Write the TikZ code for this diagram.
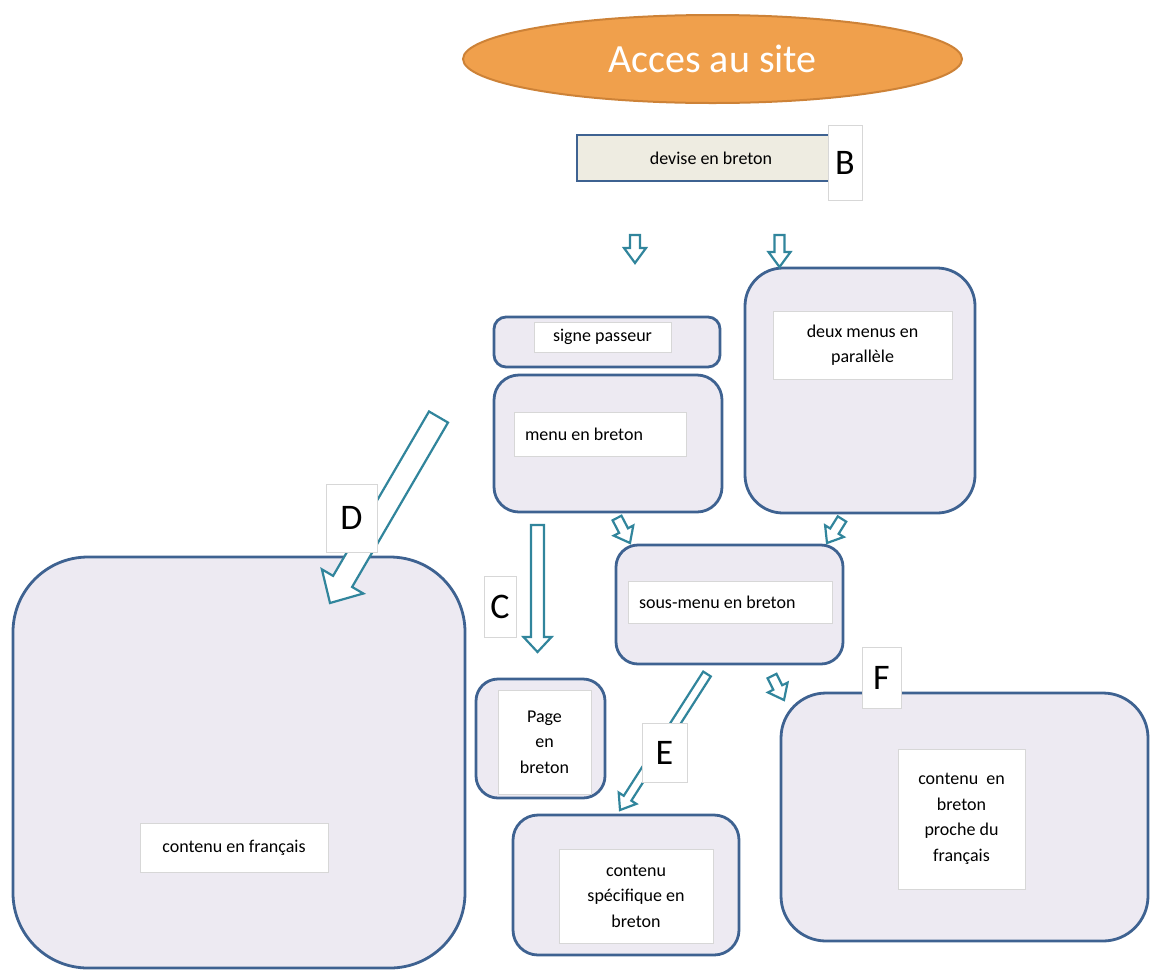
\documentclass[tikz,border=0pt]{standalone}
\usepackage{fontspec}
\setmainfont{Carlito}
\usetikzlibrary{shapes.geometric,calc}
\definecolor{boxline}{RGB}{62,98,145}
\definecolor{boxfill}{RGB}{237,234,242}
\definecolor{arrowteal}{RGB}{49,133,156}
\definecolor{orangefill}{RGB}{240,160,76}
\definecolor{orangeline}{RGB}{205,130,55}
\definecolor{devisefill}{RGB}{238,236,225}
\definecolor{innerline}{RGB}{215,215,215}
\newcommand\blockarrow[5]{%
  \coordinate (bah) at ($(#2)!#5!(#1)$);
  \draw[arrowline] ($(#1)!#3!90:(#2)$) -- ($(bah)!#3!90:(#2)$) -- ($(bah)!#4!90:(#2)$) -- (#2)
    -- ($(bah)!#4!-90:(#2)$) -- ($(bah)!#3!-90:(#2)$) -- ($(#1)!#3!-90:(#2)$) -- cycle;}
\tikzset{
  outerbox/.style={draw=boxline, fill=boxfill, line width=2.8pt, rounded corners=#1, inner sep=0pt},
  innerbox/.style={draw=innerline, fill=white, line width=0.8pt, inner sep=0pt, align=center,
    font=\fontsize{18}{25.5}\selectfont},
  letterbox/.style={draw=innerline, fill=white, line width=0.8pt, inner sep=0pt,
    font=\fontsize{36}{40}\selectfont},
  arrowline/.style={draw=arrowteal, fill=white, line width=2.2pt, line join=miter},
}
\begin{document}
\begin{tikzpicture}[x=1pt,y=-1pt]
\useasboundingbox (0,0) rectangle (1150,970);
% title
\node[ellipse, draw=orangeline, fill=orangefill, line width=2pt, minimum width=499pt, minimum height=88pt,
  text=white, font=\fontsize{40}{44}\selectfont] (title) at (712.5,59) {\raisebox{-3pt}{Acces au site}};
% devise
\node[draw=boxline, fill=devisefill, line width=2.8pt, minimum width=263pt, minimum height=46pt,
  inner sep=0pt, font=\fontsize{18}{22}\selectfont] (devise) at (708.5,158) {\hspace*{5pt}devise en breton};
\node[letterbox, minimum width=34pt, minimum height=75pt] (lB) at (845,162.5) {B};
% boxes
\node[outerbox=12pt, minimum width=226pt, minimum height=50pt] (signe) at (607,342) {};
\node[innerbox, minimum width=137pt, minimum height=30pt] (signein) at (602.5,337) {signe passeur};
\node[outerbox=25pt, minimum width=228pt, minimum height=137pt] (menu) at (608,443.5) {};
\node[innerbox, minimum width=172pt, minimum height=44pt] (menuin) at (600,434) {\makebox[150pt][l]{menu en breton}};
\node[outerbox=38pt, minimum width=230pt, minimum height=245pt] (deux) at (860,390.5) {};
\node[innerbox, minimum width=179pt, minimum height=68pt] (deuxin) at (862.5,345) {deux menus en\\parall\`ele};
\node[outerbox=22pt, minimum width=227pt, minimum height=119pt] (sous) at (729.5,604.5) {};
\node[innerbox, minimum width=204pt, minimum height=42pt] (sousin) at (730,602) {\makebox[182pt][l]{sous-menu en breton}};
\node[outerbox=75pt, minimum width=452pt, minimum height=411pt] (fr) at (239,762.5) {};
\node[innerbox, minimum width=188pt, minimum height=49pt] (frin) at (234,847.5) {contenu en fran\c{c}ais};
\node[outerbox=22pt, minimum width=129pt, minimum height=119pt] (page) at (540.5,738.5) {};
\node[innerbox, minimum width=93pt, minimum height=104pt] (pagein) at (544.5,742) {Page\\en\\breton};
\node[outerbox=25pt, minimum width=226pt, minimum height=140pt] (spec) at (626,885) {};
\node[innerbox, minimum width=154pt, minimum height=94pt] (specin) at (636,896) {contenu\\sp\'ecifique en\\breton};
\node[outerbox=45pt, minimum width=367pt, minimum height=248pt] (proche) at (964.5,817) {};
\node[innerbox, minimum width=127pt, minimum height=140pt] (prochein) at (961.5,819) {contenu\ \ en\\breton\\proche du\\fran\c{c}ais};
% arrow end points
\coordinate (a1s) at (635,235);   \coordinate (a1e) at (635,263);
\coordinate (a2s) at (779.5,235); \coordinate (a2e) at (779.5,267);
\coordinate (aDs) at (438.5,417); \coordinate (aDe) at (330,603);
\coordinate (aCs) at (537.5,525); \coordinate (aCe) at (537.5,652);
\coordinate (aMs) at (617,518);   \coordinate (aMe) at (630,543);
\coordinate (aPs) at (842,519);   \coordinate (aPe) at (827,543);
\coordinate (aFs) at (772,676);   \coordinate (aFe) at (784,700);
\coordinate (aEs) at (707,674);   \coordinate (aEe) at (620,810);
% arrows
\blockarrow{a1s}{a1e}{5pt}{11pt}{15pt}
\blockarrow{a2s}{a2e}{5pt}{11pt}{15pt}
\blockarrow{aDs}{aDe}{11pt}{24pt}{25pt}
\blockarrow{aCs}{aCe}{6.5pt}{14pt}{15pt}
\blockarrow{aMs}{aMe}{5pt}{11pt}{14pt}
\blockarrow{aPs}{aPe}{5pt}{11pt}{14pt}
\blockarrow{aFs}{aFe}{5pt}{11pt}{14pt}
\blockarrow{aEs}{aEe}{4.5pt}{10.5pt}{14pt}
% letter labels
\node[letterbox, minimum width=32pt, minimum height=61pt] (lC) at (500,606.5) {C};
\node[letterbox, minimum width=51pt, minimum height=68pt] (lD) at (351.5,518) {D};
\node[letterbox, minimum width=45pt, minimum height=59pt] (lE) at (664.5,752.5) {E};
\node[letterbox, minimum width=39pt, minimum height=61pt] (lF) at (881.5,677.5) {F};
\end{tikzpicture}
\end{document}
